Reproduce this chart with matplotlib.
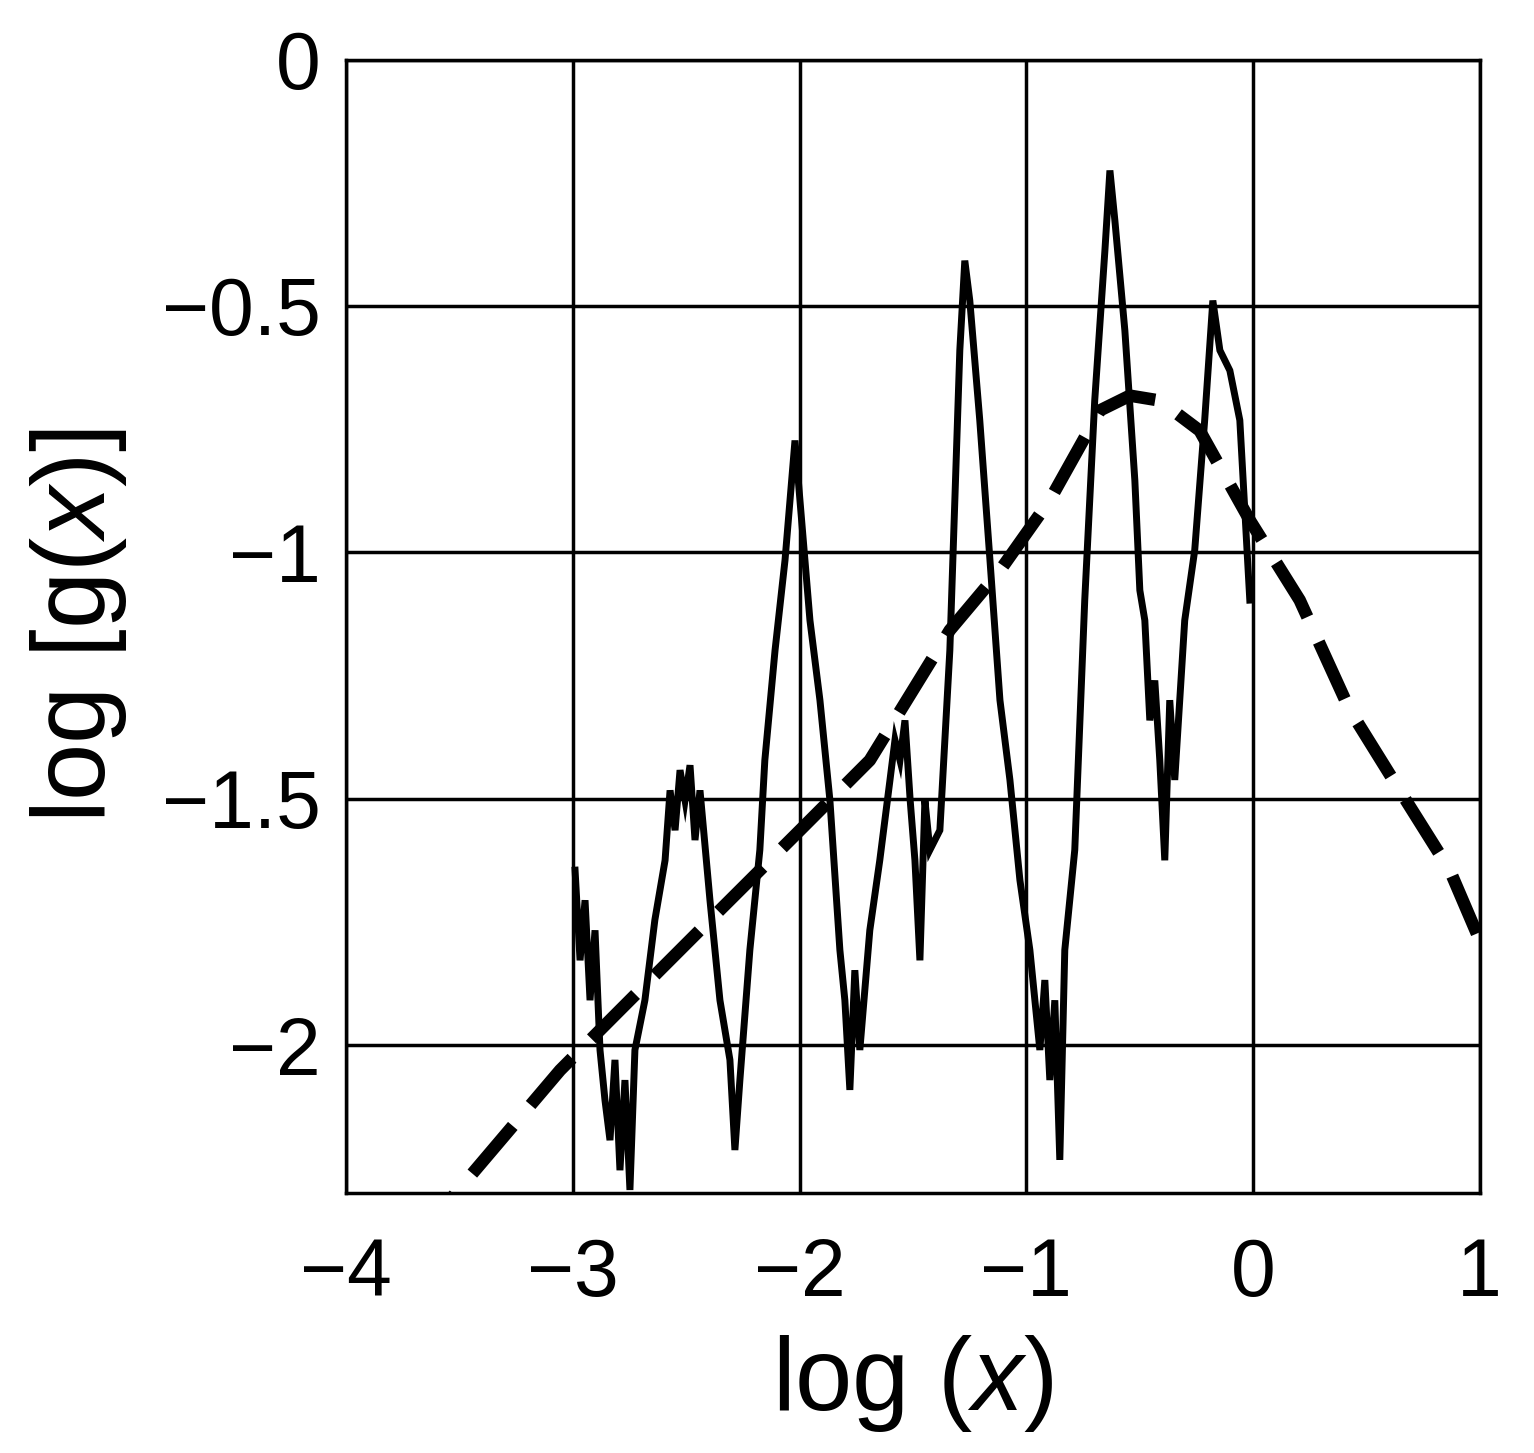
import matplotlib
matplotlib.use("Agg")
import matplotlib.pyplot as plt

solid_x = [-2.99,-2.968,-2.946,-2.924,-2.902,-2.880,-2.858,-2.836,-2.814,-2.792,-2.770,-2.748,-2.726,-2.682,-2.638,-2.593,-2.571,-2.549,-2.527,-2.505,-2.483,-2.461,-2.439,-2.395,-2.351,-2.307,-2.285,-2.263,-2.219,-2.175,-2.153,-2.108,-2.064,-2.020,-1.998,-1.954,-1.910,-1.866,-1.822,-1.800,-1.778,-1.756,-1.734,-1.690,-1.646,-1.601,-1.579,-1.557,-1.535,-1.512,-1.491,-1.469,-1.447,-1.425,-1.381,-1.337,-1.315,-1.293,-1.271,-1.249,-1.205,-1.160,-1.116,-1.072,-1.028,-0.984,-0.940,-0.918,-0.896,-0.874,-0.852,-0.830,-0.786,-0.742,-0.698,-0.653,-0.631,-0.609,-0.565,-0.521,-0.499,-0.477,-0.455,-0.433,-0.411,-0.389,-0.367,-0.345,-0.301,-0.257,-0.213,-0.177,-0.146,-0.102,-0.058,-0.014]
solid_y = [-1.645,-1.828,-1.706,-1.909,-1.767,-2.010,-2.112,-2.193,-2.030,-2.254,-2.071,-2.294,-2.010,-1.909,-1.746,-1.625,-1.483,-1.564,-1.442,-1.503,-1.432,-1.584,-1.483,-1.706,-1.909,-2.030,-2.213,-2.071,-1.807,-1.604,-1.422,-1.199,-1.016,-0.773,-0.895,-1.138,-1.300,-1.503,-1.807,-1.909,-2.091,-1.848,-2.010,-1.767,-1.625,-1.462,-1.381,-1.422,-1.341,-1.503,-1.625,-1.828,-1.503,-1.604,-1.564,-1.199,-0.895,-0.590,-0.408,-0.489,-0.732,-1.016,-1.300,-1.462,-1.665,-1.807,-2.010,-1.868,-2.071,-1.909,-2.233,-1.807,-1.604,-1.097,-0.692,-0.387,-0.225,-0.327,-0.550,-0.854,-1.077,-1.138,-1.341,-1.260,-1.422,-1.625,-1.300,-1.462,-1.138,-0.996,-0.732,-0.489,-0.590,-0.631,-0.732,-1.097]

dash_x = [-3.70,-3.056,-2.792,-2.351,-1.998,-1.690,-1.337,-1.116,-0.896,-0.675,-0.543,-0.411,-0.235,-0.014,0.206,0.427,0.647,0.868,1.0]
dash_y = [-2.40,-2.051,-1.929,-1.726,-1.564,-1.422,-1.158,-1.037,-0.894,-0.712,-0.682,-0.692,-0.753,-0.935,-1.097,-1.320,-1.483,-1.645,-1.787]

x_ticks = [-4, -3, -2, -1, 0, 1]
y_ticks = [0, -0.5, -1, -1.5, -2]

plt.rcParams['font.family'] = ['Liberation Sans', 'DejaVu Sans']
plt.rcParams['mathtext.fontset'] = 'custom'
plt.rcParams['mathtext.it'] = 'Liberation Sans:italic'
plt.rcParams['mathtext.rm'] = 'Liberation Sans'
fig = plt.figure(figsize=(15.34, 14.53), dpi=100)
ax = fig.add_axes([0.2256, 0.179, 0.739, 0.780])
ax.plot(solid_x, solid_y, color='black', lw=5, zorder=3, solid_joinstyle='miter')
ax.plot(dash_x, dash_y, color='black', lw=9, dashes=(5, 2.2), zorder=4)
ax.set_xlim(-4, 1)
ax.set_ylim(-2.3, 0)
ax.set_xticks(x_ticks)
ax.set_xticklabels(['\u22124', '\u22123', '\u22122', '\u22121', '0', '1'])
ax.set_yticks(y_ticks)
ax.set_yticklabels(['0', '\u22120.5', '\u22121', '\u22121.5', '\u22122'])
ax.grid(True, color='black', lw=2.5)
for s in ax.spines.values():
    s.set_linewidth(2.5)
ax.tick_params(length=0, labelsize=58, pad=18)
ax.tick_params(axis='x', pad=32)
ax.set_xlabel('log ($\\mathit{x}$)', fontsize=74, labelpad=14)
ax.set_ylabel('log [g($\\mathit{x}$)]', fontsize=74, labelpad=24)
fig.savefig('out.png', dpi=100)
